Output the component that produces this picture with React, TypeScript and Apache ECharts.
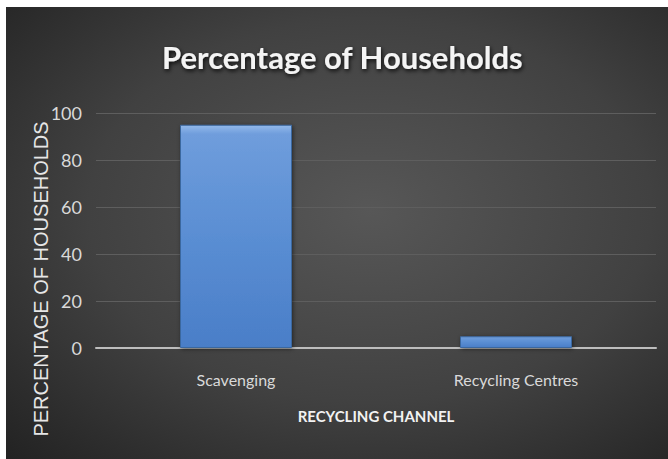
import React, { useEffect, useRef } from "react";
import * as echarts from "echarts";

const categories = ["Scavenging", "Recycling Centres"];
const values = [95, 5];
const yTicks = [0, 20, 40, 60, 80, 100];
const titleText = "Percentage of Households";
const xAxisName = "RECYCLING CHANNEL";
const yAxisName = "PERCENTAGE OF HOUSEHOLDS";

const NARROW = "Lato, 'Noto Sans', sans-serif";

export default function App() {
  const ref = useRef<HTMLDivElement>(null);
  useEffect(() => {
    if (!ref.current) return;
    const chart = echarts.init(ref.current, undefined, { renderer: "svg" });
    const interval = yTicks[1] - yTicks[0];
    chart.setOption({
      animation: false,
      backgroundColor: "#ffffff",
      title: {
        text: titleText,
        left: 157,
        top: 36,
        textStyle: {
          color: "#f4f4f4",
          fontFamily: NARROW,
          fontSize: 31,
          fontWeight: "bold",
          textShadowColor: "rgba(0,0,0,0.85)",
          textShadowBlur: 4,
          textShadowOffsetX: 1,
          textShadowOffsetY: 2,
        },
      },
      graphic: [
        {
          type: "rect",
          z: -10,
          silent: true,
          shape: { x: 6, y: 7, width: 662, height: 452 },
          style: {
            fill: new echarts.graphic.RadialGradient(0.55, 0.45, 0.85, [
              { offset: 0, color: "#575757" },
              { offset: 0.5, color: "#414141" },
              { offset: 0.78, color: "#2c2c2c" },
              { offset: 1, color: "#1c1c1c" },
            ]),
          },
        },
        {
          type: "text",
          x: 41,
          y: 279,
          rotation: Math.PI / 2,
          silent: true,
          style: {
            text: yAxisName,
            fill: "#e6e6e6",
            font: "20px 'Liberation Sans', Arial, sans-serif",
            align: "center",
            verticalAlign: "middle",
          },
        },
      ],
      grid: { left: 96, right: 12, top: 113, bottom: 111, containLabel: false },
      xAxis: {
        type: "category",
        data: categories,
        name: xAxisName,
        nameLocation: "middle",
        nameGap: 60,
        nameTextStyle: {
          color: "#f2f2f2",
          fontFamily: NARROW,
          fontSize: 15,
          fontWeight: "bold",
        },
        axisLine: { lineStyle: { color: "#bdbdbd", width: 2 } },
        axisTick: { show: false },
        axisLabel: {
          color: "#d9d9d9",
          fontFamily: NARROW,
          fontSize: 16,
          margin: 23,
        },
      },
      yAxis: {
        type: "value",
        min: yTicks[0],
        max: yTicks[yTicks.length - 1],
        interval,
        axisLine: { show: false },
        axisTick: { show: false },
        splitLine: { lineStyle: { color: "#5e5e5e", width: 1 } },
        axisLabel: {
          color: "#d9d9d9",
          fontFamily: NARROW,
          fontSize: 18,
          margin: 14,
        },
      },
      series: [
        {
          type: "bar",
          data: values,
          barWidth: "40%",
          itemStyle: {
            color: new echarts.graphic.LinearGradient(0, 0, 0, 1, [
              { offset: 0, color: "#93b9ea" },
              { offset: 0.04, color: "#6f9ddc" },
              { offset: 0.5, color: "#5a8ed3" },
              { offset: 1, color: "#4a7ec8" },
            ]),
            borderColor: "#3b679f",
            borderWidth: 1,
            shadowColor: "rgba(0,0,0,0.5)",
            shadowBlur: 4,
            shadowOffsetX: 1,
            shadowOffsetY: 1,
          },
        },
      ],
    });
    return () => chart.dispose();
  }, []);
  return (
    <div
      ref={ref}
      style={{ position: "absolute", left: 0, top: 0, width: 668, height: 459 }}
    />
  );
}
